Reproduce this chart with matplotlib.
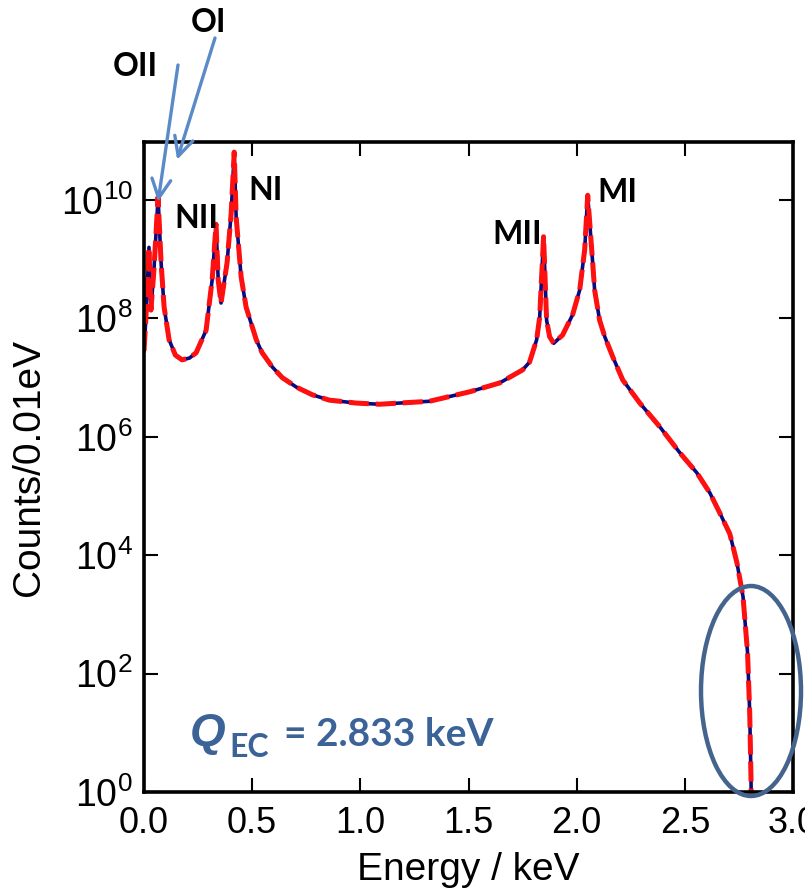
import numpy as np
import matplotlib
matplotlib.use("Agg")
import matplotlib.pyplot as plt
from matplotlib.patches import Ellipse
from matplotlib.transforms import IdentityTransform

# spectrum: energy (keV) and log10(counts / 0.01 eV)
energy = [0.000, 0.009, 0.023, 0.032, 0.046, 0.065, 0.079, 0.093, 0.116, 0.145,
          0.176, 0.210, 0.241, 0.287, 0.315, 0.333, 0.343, 0.356, 0.384, 0.403,
          0.417, 0.426, 0.449, 0.472, 0.519, 0.546, 0.593, 0.639, 0.704, 0.778,
          0.856, 0.981, 1.088, 1.319, 1.505, 1.644, 1.750, 1.782, 1.815, 1.829,
          1.847, 1.861, 1.875, 1.894, 1.935, 1.981, 2.014, 2.037, 2.051, 2.074,
          2.083, 2.106, 2.130, 2.167, 2.213, 2.292, 2.384, 2.477, 2.556, 2.616,
          2.662, 2.708, 2.741, 2.769, 2.790, 2.800, 2.806, 2.808]
log_counts = [7.45, 8.02, 9.20, 8.14, 8.82, 10.05, 8.94, 8.19, 7.64, 7.38,
              7.30, 7.33, 7.42, 7.80, 8.65, 9.59, 8.65, 8.26, 8.94, 9.78,
              10.81, 9.71, 8.70, 8.19, 7.64, 7.42, 7.18, 7.00, 6.84, 6.71,
              6.62, 6.57, 6.55, 6.60, 6.76, 6.91, 7.13, 7.26, 7.64, 8.02,
              9.38, 7.97, 7.69, 7.58, 7.72, 8.06, 8.48, 9.16, 10.08, 8.94,
              8.48, 7.97, 7.69, 7.35, 6.96, 6.57, 6.17, 5.73, 5.39, 5.05,
              4.71, 4.36, 3.87, 3.30, 2.35, 1.33, 0.20, -0.50]
counts = 10.0 ** np.array(log_counts)

x_ticks = [0.0, 0.5, 1.0, 1.5, 2.0, 2.5, 3.0]
y_exps = [0, 2, 4, 6, 8, 10]

# peak labels: text, text centre (figure pixels from top-left)
peak_labels = ["OII", "OI", "NII", "NI", "MII", "MI"]
label_pos = [(135, 66), (208, 22), (196, 218), (266, 191), (517, 235), (617, 192)]

# arrows: tip (keV, log10 counts), tail (figure pixels from top-left)
arrow_tips = [(0.065, 9.97), (0.153, 10.68)]
arrow_tails = [(178, 65), (215, 38)]

W, H = 805, 890
plt.rcParams['font.family'] = ['Liberation Sans', 'DejaVu Sans']
plt.rcParams['mathtext.fontset'] = 'custom'
plt.rcParams['mathtext.rm'] = 'Liberation Sans'

fig = plt.figure(figsize=(W / 100, H / 100), dpi=100)
ax = fig.add_axes([144 / W, 1 - 792 / H, (793 - 144) / W, (792 - 142) / H])

ax.plot(energy, counts, color='#0a0a80', lw=2.6, solid_joinstyle='round')
ax.plot(energy, counts, color='#ff1010', lw=3.6, dashes=(4.0, 1.4),
        solid_joinstyle='round')

ax.set_yscale('log')
ax.set_xlim(0.0, 3.0)
ax.set_ylim(1, 10 ** 10.98)
ax.set_xticks(x_ticks)
ax.set_xticklabels(['%.1f' % t for t in x_ticks])
ax.set_yticks([10.0 ** e for e in y_exps])
ax.set_yticklabels([r'$10^{%d}$' % e for e in y_exps])
ax.minorticks_off()
ax.tick_params(direction='in', length=10, width=1.5, top=True, right=True)
ax.tick_params(axis='x', pad=10, labelsize=26)
ax.tick_params(axis='y', pad=8, labelsize=27)
for sp in ax.spines.values():
    sp.set_linewidth(2.6)

ax.set_xlabel('Energy / keV', fontsize=28, labelpad=8)
ax.set_ylabel('Counts/0.01eV', fontsize=28)
ax.yaxis.set_label_coords(-0.15, 0.5)

for txt, (px, py) in zip(peak_labels, label_pos):
    fig.text(px / W, 1 - py / H, txt, fontsize=23, fontweight='bold',
             family=['Lato', 'DejaVu Sans'], ha='center', va='center')

for (tx, ty), (px, py) in zip(arrow_tips, arrow_tails):
    ax.annotate('', xy=(tx, 10 ** ty), xycoords='data',
                xytext=(px, H - py), textcoords='figure pixels',
                annotation_clip=False,
                arrowprops=dict(arrowstyle='->', color='#5b8ac8', lw=2.4,
                                mutation_scale=34, shrinkA=0, shrinkB=0))

qcol = '#3b6398'
fig.text(190 / W, 1 - 746 / H, 'Q', fontsize=33, fontweight='bold',
         style='italic', color=qcol, family=['Liberation Sans'],
         va='baseline')
fig.text(229 / W, 1 - 757 / H, 'EC', fontsize=23, fontweight='bold',
         color=qcol, family=['Lato', 'DejaVu Sans'], va='baseline')
fig.text(284 / W, 1 - 746 / H, '= 2.833 keV', fontsize=28, fontweight='bold',
         color=qcol, family=['Lato', 'DejaVu Sans'], va='baseline')

ell = Ellipse((751, H - 691), 100, 210, fill=False, edgecolor='#44648e',
              lw=3.2, transform=IdentityTransform())
fig.add_artist(ell)

fig.savefig('out.png', dpi=100)
